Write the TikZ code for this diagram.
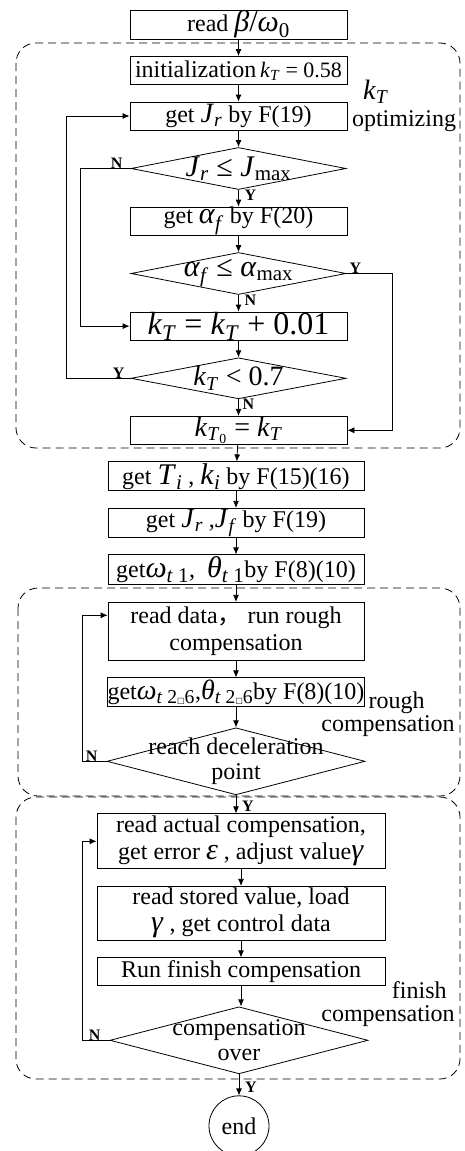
\documentclass[tikz,border=0pt]{standalone}
\usepackage{fontspec}
\setmainfont{Liberation Serif}
\newfontfamily\symfont{DejaVu Sans}
\newfontfamily\cjkfont{Noto Sans CJK SC}
\usetikzlibrary{arrows.meta,positioning,shapes.geometric}
\newcommand{\fsz}[1]{\fontsize{#1}{#1}\selectfont}
\newcommand{\mi}[1]{\textit{#1}}
\newcommand{\sbs}[1]{\textsubscript{#1}}
\tikzset{
  box/.style={draw, line width=0.8pt, inner sep=0pt, align=center, font=\fontsize{24}{27}\selectfont},
  wA/.style={minimum width=217pt, minimum height=28pt},
  wB/.style={minimum width=256pt, minimum height=29pt},
  wC/.style={minimum width=288pt, minimum height=55pt},
  dia/.style={draw, line width=0.8pt, shape=diamond, inner sep=0pt},
  dtxt/.style={inner sep=0pt, align=center, font=\fontsize{24}{25}\selectfont},
  flow/.style={-{Latex[length=7pt,width=6pt]}, line width=0.8pt},
  yn/.style={inner sep=0pt, font=\fontsize{16}{16}\selectfont\bfseries},
  grp/.style={dash pattern=on 8pt off 5pt, line width=0.8pt, rounded corners=20pt},
  note/.style={inner sep=0pt, font=\fontsize{24}{23}\selectfont},
}

\begin{document}
\begin{tikzpicture}[x=1pt, y=-1pt, node distance=16.7pt]
\useasboundingbox (0,0) rectangle (465,1151);
% dashed groups
\draw[grp] (16,43) rectangle (460,448);
\draw[grp] (18,588) rectangle (460,796);
\draw[grp] (16,797) rectangle (460,1079);

% k_T optimizing
\node[box, wA, minimum height=29pt] (read) at (238.5,24.5) {read {\fsz{30}\mi{β}/\mi{ω}\sbs{0}}};
\node[box, wA, below=of read] (init) {initialization{\fsz{22}\,\mi{k}\sbs{\mi{T}} = 0.58}};
\node[box, wA, below=of init] (getJr) {get {\fsz{28}\mi{J}\sbs{\mi{r}}} by F(19)};
\node[dia, minimum width=215pt, minimum height=42pt, below=of getJr] (chkJr) {};
\node[dtxt] (chkJrT) at (chkJr) {\fsz{30}\mi{J}\sbs{\mi{r}} ≤ \mi{J}\sbs{max}};
\node[box, wA, below=of chkJr] (getAf) {get {\fsz{30}\mi{α}\sbs{\mi{f}}} by F(20)};
\node[dia, minimum width=215pt, minimum height=42pt, below=of getAf] (chkAf) {};
\node[dtxt] (chkAfT) at (chkAf) {\fsz{30}\mi{α}\sbs{\mi{f}} ≤ \mi{α}\sbs{max}};
\node[box, wA, below=of chkAf] (incK) {\fsz{32}\mi{k}\sbs{\mi{T}} = \mi{k}\sbs{\mi{T}} + 0.01};
\node[dia, minimum width=215pt, minimum height=41pt, below=of incK] (chkK) {};
\node[dtxt] (chkKT) at (chkK) {\fsz{28}\mi{k}\sbs{\mi{T}} < 0.7};
\node[box, wA, below=of chkK] (setK0) {\fsz{28}\mi{k}\sbs{\mi{T}\textsubscript{0}} = \mi{k}\sbs{\mi{T}}};
\node[note, align=left, font=\fontsize{24}{27}\selectfont] (optL) at (404,106) {\hspace*{11pt}{\fsz{28}\mi{k}\sbs{\mi{T}}}\\optimizing};

% coefficients
\node[box, wB, below=of setK0, xshift=-2.5pt] (getTk) {get {\fsz{30}\mi{T}\sbs{\mi{i}}} , {\fsz{30}\mi{k}\sbs{\mi{i}}} by F(15)(16)};
\node[box, wB, below=of getTk] (getJJ) {get {\fsz{28}\mi{J}\sbs{\mi{r}}} ,{\fsz{28}\mi{J}\sbs{\mi{f}}} by F(19)};
\node[box, wB, minimum height=30pt, below=of getJJ] (getWT) {get{\fsz{30}\mi{ω}\sbs{\mi{t} 1}},~ {\fsz{30}\mi{θ}\sbs{\mi{t} 1}}by F(8)(10)};

% rough compensation
\node[box, wB, minimum height=58pt, below=of getWT] (rough) {read data{\cjkfont ，} run rough\\compensation};
\node[box, wB, below=of rough] (getWT2) {get{\fsz{28}\mi{ω}\sbs{\mi{t} 2{\symfont\fsz{8}□}6}},{\fsz{28}\mi{θ}\sbs{\mi{t} 2{\symfont\fsz{8}□}6}}by F(8)(10)};
\node[dia, minimum width=258pt, minimum height=67pt, below=20.2pt of getWT2] (reach) {};
\node[dtxt] (reachT) at (reach) {reach deceleration\\point};
\node[note, align=right] (roughL) at (388,714) {rough\hspace*{30pt}\\compensation};

% finish compensation
\node[box, wC, below=18.2pt of reach, xshift=5pt] (actual) {read actual compensation,\\get error {\fsz{30}\mi{ε}} , adjust value{\fsz{30}\mi{γ}}};
\node[box, wC, minimum height=54pt, below=of actual] (stored) {read stored value, load\\{\fsz{30}\mi{γ}} , get control data};
\node[box, wC, minimum height=28pt, below=of stored] (finish) {Run finish compensation};
\node[dia, minimum width=258pt, minimum height=67pt, below=20.2pt of finish, xshift=-2pt] (over) {};
\node[dtxt] (overT) at (over) {compensation\\over};
\node[note, align=right] (finL) at (388,1004) {finish\hspace*{8pt}\\compensation};
\node[draw, circle, line width=0.8pt, minimum size=60pt, inner sep=0pt, below=21.2pt of over, font=\fsz{24}] (stop) {end};

% main flow
\draw[flow] (read) -- (init);
\draw[flow] (init) -- (getJr);
\draw[flow] (getJr) -- (chkJr);
\draw[flow] (chkJr) -- (getAf);
\draw[flow] (getAf) -- (chkAf);
\draw[flow] (chkAf) -- (incK);
\draw[flow] (incK) -- (chkK);
\draw[flow] (chkK) -- (setK0);
\draw[flow] (setK0) -- (getTk);
\draw[flow] (getTk) -- (getJJ);
\draw[flow] (getJJ) -- (getWT);
\draw[flow] (getWT) -- (rough);
\draw[flow] (rough) -- (getWT2);
\draw[flow] (getWT2) -- (reach);
\draw[flow] (reach.south) -- (reach.south |- actual.north);
\draw[flow] (actual) -- (stored);
\draw[flow] (stored) -- (finish);
\draw[flow] (finish.south) -- (finish.south |- over.north);
\draw[flow] (over) -- (stop);

% loops
\draw[flow] (chkJr.west) -- ++(-50,0) |- (incK.west);
\draw[flow] (chkK.west) -- ++(-64,0) |- (getJr.west);
\draw[flow] (chkAf.east) -- ++(46,0) |- (setK0.east);
\draw[flow] (reach.west) -- ++(-24,0) |- ([yshift=16pt]rough.west);
\draw[flow] (over.west) -- ++(-27,0) |- (actual.west);

% Y / N
\node[yn, anchor=south east] (nJr) at ([xshift=-8pt]chkJr.west) {N};
\node[yn, anchor=north west] (yJr) at ([xshift=6pt]chkJr.south) {Y};
\node[yn, anchor=south west] (yAf) at ([xshift=3pt]chkAf.east) {Y};
\node[yn, anchor=north west] (nAf) at ([xshift=6pt]chkAf.south) {N};
\node[yn, anchor=south east] (yK) at ([xshift=-6pt]chkK.west) {Y};
\node[yn, anchor=north west] (nK) at ([xshift=4pt]chkK.south) {N};
\node[yn, anchor=south east] (nReach) at ([xshift=-9pt]reach.west) {N};
\node[yn, anchor=north west] (yReach) at ([xshift=6pt,yshift=-6pt]reach.south) {Y};
\node[yn, anchor=south east] (nOver) at ([xshift=-9pt]over.west) {N};
\node[yn, anchor=north west] (yOver) at ([xshift=6pt,yshift=-8pt]over.south) {Y};
\end{tikzpicture}
\end{document}
